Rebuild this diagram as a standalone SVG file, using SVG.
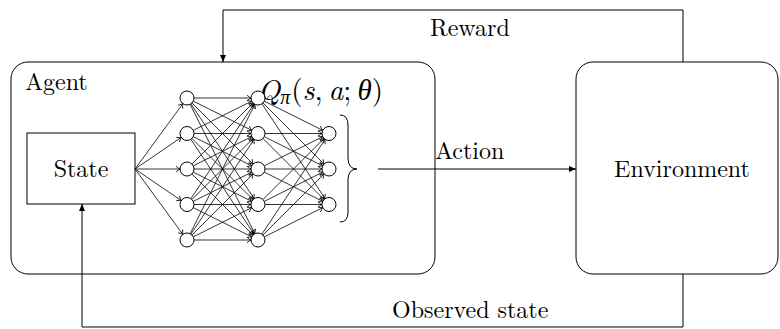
<svg xmlns="http://www.w3.org/2000/svg" width="780" height="329" viewBox="0 0 780 329">
<style>
.box{fill:none;stroke:#000;stroke-width:1}
.neuron{fill:#fff;stroke:#000;stroke-width:1}
.lbl{font-family:'Latin Modern Roman','CMU Serif','Liberation Serif','Times New Roman',serif;font-size:24px;fill:#000}
.math{font-family:'Latin Modern Roman','Liberation Serif',serif;font-size:29px;fill:#000}
.greek{font-family:'Liberation Serif','DejaVu Serif',serif;font-style:italic;font-weight:normal}
.up{font-style:normal}
.edge{stroke:#000;stroke-width:0.8;fill:none;marker-end:url(#tip)}
.conn{stroke:#000;stroke-width:1;fill:none}
.arr{marker-end:url(#latex)}
</style>
<defs>
<marker id="tip" markerUnits="userSpaceOnUse" markerWidth="10" markerHeight="10" viewBox="-6 -5 10 10" refX="0" refY="0" orient="auto" overflow="visible">
<path d="M-4,-2.8 Q-1.5,-0.6 0,0 Q-1.5,0.6 -4,2.8" fill="none" stroke="#000" stroke-width="0.8"/>
</marker>
<marker id="latex" markerUnits="userSpaceOnUse" markerWidth="12" markerHeight="12" viewBox="-8 -6 12 12" refX="0" refY="0" orient="auto" overflow="visible">
<path d="M0,0 L-7,-3 L-7,3 Z" fill="#000"/>
</marker>
</defs>

<g id="agent">
<rect class="box" x="11" y="62" width="424" height="212" rx="17"/>
<text class="lbl" x="25" y="90">Agent</text>
<text class="math" x="258" y="100" font-style="italic">Q<tspan class="greek" font-size="20" dy="4">π</tspan><tspan class="up" dy="-4" dx="1">(</tspan>s<tspan class="up">,</tspan><tspan dx="6">a</tspan><tspan class="up">;</tspan><tspan class="greek" dx="6">θ</tspan><tspan class="up">)</tspan></text>
</g>

<g id="state">
<rect class="box" x="27" y="133" width="108" height="71"/>
<text class="lbl" x="81" y="177" text-anchor="middle">State</text>
</g>

<g id="environment">
<rect class="box" x="576" y="62" width="202" height="212" rx="17"/>
<text class="lbl" x="682" y="177" text-anchor="middle">Environment</text>
</g>

<g id="connectors">
<g id="nn-edges">
<line class="edge" x1="135" y1="169" x2="182.86" y2="103.65"/>
<line class="edge" x1="135" y1="169" x2="181.22" y2="137.45"/>
<line class="edge" x1="135" y1="169" x2="180" y2="169"/>
<line class="edge" x1="135" y1="169" x2="181.22" y2="200.55"/>
<line class="edge" x1="135" y1="169" x2="182.86" y2="234.35"/>

<line class="edge" x1="194" y1="98" x2="251" y2="98"/>
<line class="edge" x1="193.26" y1="101.13" x2="251.74" y2="130.37"/>
<line class="edge" x1="191.95" y1="102.95" x2="253.05" y2="164.05"/>
<line class="edge" x1="190.88" y1="103.82" x2="254.12" y2="198.68"/>
<line class="edge" x1="190.13" y1="104.26" x2="254.87" y2="233.74"/>

<line class="edge" x1="193.26" y1="130.37" x2="251.74" y2="101.13"/>
<line class="edge" x1="194" y1="133.5" x2="251" y2="133.5"/>
<line class="edge" x1="193.26" y1="136.63" x2="251.74" y2="165.87"/>
<line class="edge" x1="191.95" y1="138.45" x2="253.05" y2="199.55"/>
<line class="edge" x1="190.88" y1="139.32" x2="254.12" y2="234.18"/>

<line class="edge" x1="191.95" y1="164.05" x2="253.05" y2="102.95"/>
<line class="edge" x1="193.26" y1="165.87" x2="251.74" y2="136.63"/>
<line class="edge" x1="194" y1="169" x2="251" y2="169"/>
<line class="edge" x1="193.26" y1="172.13" x2="251.74" y2="201.37"/>
<line class="edge" x1="191.95" y1="173.95" x2="253.05" y2="235.05"/>

<line class="edge" x1="190.88" y1="198.68" x2="254.12" y2="103.82"/>
<line class="edge" x1="191.95" y1="199.55" x2="253.05" y2="138.45"/>
<line class="edge" x1="193.26" y1="201.37" x2="251.74" y2="172.13"/>
<line class="edge" x1="194" y1="204.5" x2="251" y2="204.5"/>
<line class="edge" x1="193.26" y1="207.63" x2="251.74" y2="236.87"/>

<line class="edge" x1="190.13" y1="233.74" x2="254.87" y2="104.26"/>
<line class="edge" x1="190.88" y1="234.18" x2="254.12" y2="139.32"/>
<line class="edge" x1="191.95" y1="235.05" x2="253.05" y2="173.95"/>
<line class="edge" x1="193.26" y1="236.87" x2="251.74" y2="207.63"/>
<line class="edge" x1="194" y1="240" x2="251" y2="240"/>

<line class="edge" x1="264.26" y1="101.13" x2="322.74" y2="130.37"/>
<line class="edge" x1="262.95" y1="102.95" x2="324.05" y2="164.05"/>
<line class="edge" x1="261.88" y1="103.82" x2="325.12" y2="198.68"/>
<line class="edge" x1="265" y1="133.5" x2="322" y2="133.5"/>
<line class="edge" x1="264.26" y1="136.63" x2="322.74" y2="165.87"/>
<line class="edge" x1="262.95" y1="138.45" x2="324.05" y2="199.55"/>
<line class="edge" x1="264.26" y1="165.87" x2="322.74" y2="136.63"/>
<line class="edge" x1="265" y1="169" x2="322" y2="169"/>
<line class="edge" x1="264.26" y1="172.13" x2="322.74" y2="201.37"/>
<line class="edge" x1="262.95" y1="199.55" x2="324.05" y2="138.45"/>
<line class="edge" x1="264.26" y1="201.37" x2="322.74" y2="172.13"/>
<line class="edge" x1="265" y1="204.5" x2="322" y2="204.5"/>
<line class="edge" x1="261.88" y1="234.18" x2="325.12" y2="139.32"/>
<line class="edge" x1="262.95" y1="235.05" x2="324.05" y2="173.95"/>
<line class="edge" x1="264.26" y1="236.87" x2="322.74" y2="207.63"/>
</g>
<path id="brace" class="conn" d="M340,115 Q348,115 348,125 L348,158 Q348,169 357,169 Q348,169 348,180 L348,212 Q348,222 340,222"/>
<path id="action" class="conn arr" d="M378,169 L576,169"/>
<text class="lbl" x="435" y="159">Action</text>
<path id="reward" class="conn arr" d="M683,62 L683,10 L223,10 L223,62"/>
<text class="lbl" x="430" y="36">Reward</text>
<path id="observed" class="conn arr" d="M683,274 L683,327 L82,327 L82,204"/>
<text class="lbl" x="392" y="318">Observed state</text>
</g>

<g id="network">
<g id="layer1">
<circle class="neuron" cx="187" cy="98" r="7"/>
<circle class="neuron" cx="187" cy="133.5" r="7"/>
<circle class="neuron" cx="187" cy="169" r="7"/>
<circle class="neuron" cx="187" cy="204.5" r="7"/>
<circle class="neuron" cx="187" cy="240" r="7"/>
</g>
<g id="layer2">
<circle class="neuron" cx="258" cy="98" r="7"/>
<circle class="neuron" cx="258" cy="133.5" r="7"/>
<circle class="neuron" cx="258" cy="169" r="7"/>
<circle class="neuron" cx="258" cy="204.5" r="7"/>
<circle class="neuron" cx="258" cy="240" r="7"/>
</g>
<g id="layer3">
<circle class="neuron" cx="329" cy="133.5" r="7"/>
<circle class="neuron" cx="329" cy="169" r="7"/>
<circle class="neuron" cx="329" cy="204.5" r="7"/>
</g>
</g>
</svg>
